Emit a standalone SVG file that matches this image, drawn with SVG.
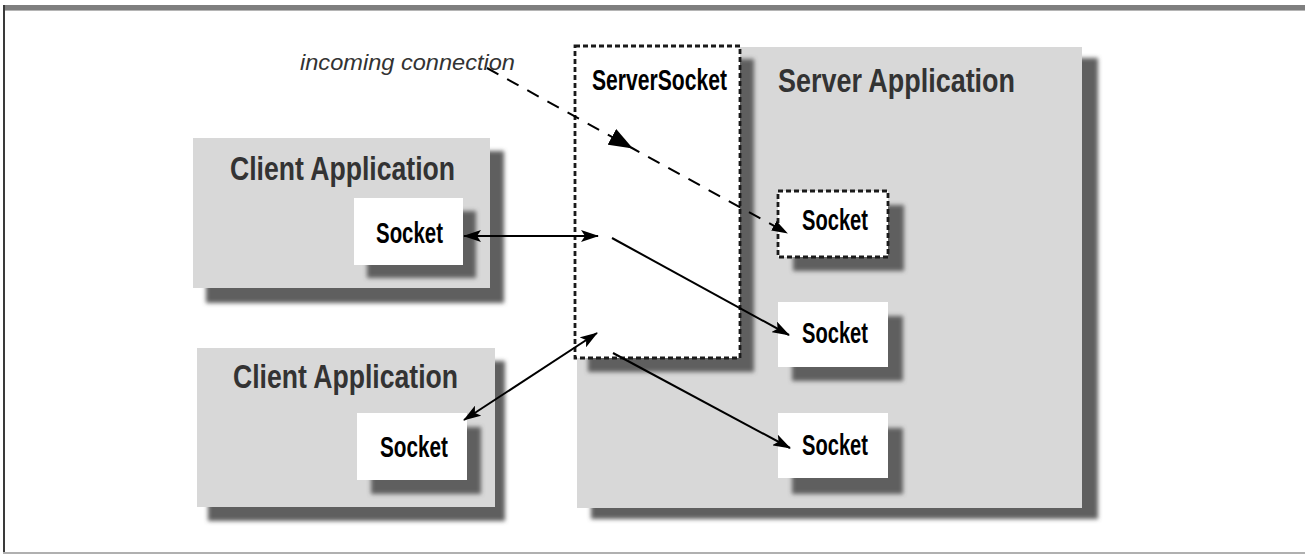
<svg xmlns="http://www.w3.org/2000/svg" width="1305" height="555" viewBox="0 0 1305 555">
<defs>
<filter id="soft" x="-10%" y="-10%" width="120%" height="120%"><feGaussianBlur stdDeviation="2"/></filter>
<marker id="ah" viewBox="0 0 18 12" refX="17" refY="6" markerWidth="18" markerHeight="12" markerUnits="userSpaceOnUse" orient="auto-start-reverse"><path d="M0,0 L18,6 L0,12 L4,6 z" fill="#000"/></marker>
<marker id="ahs" viewBox="0 0 16 11" refX="15" refY="5.5" markerWidth="16" markerHeight="11" markerUnits="userSpaceOnUse" orient="auto"><path d="M0,0 L16,5.5 L0,11 z" fill="#000"/></marker>
<marker id="ahm" viewBox="0 0 24 18" refX="23" refY="9" markerWidth="24" markerHeight="18" markerUnits="userSpaceOnUse" orient="auto"><path d="M0,0 L24,9 L0,18 z" fill="#000"/></marker>
</defs>
<style>
.app{fill:#d8d8d8}
.shadow{fill:#5e5e5e;filter:url(#soft)}
.sock{fill:#fff}
.dash{fill:#fff;stroke:#1a1a1a;stroke-width:2.8;stroke-dasharray:5 3}
.title{font-family:"Liberation Sans",Arial,sans-serif;font-weight:bold;font-size:34px;fill:#333}
.lbl{font-family:"Liberation Sans",Arial,sans-serif;font-weight:bold;font-size:30px;fill:#000}
.note{font-family:"Liberation Sans",Arial,sans-serif;font-style:italic;font-size:22px;fill:#333}
.conn{stroke:#000;stroke-width:2;fill:none}
</style>
<rect x="0" y="0" width="1305" height="555" fill="#fff"/>
<g id="frame">
<rect x="3" y="5" width="1302" height="5" fill="#7f7f7f"/>
<rect x="3" y="10" width="1302" height="1" fill="#b5b5b5"/>
<rect x="3" y="5" width="2" height="549" fill="#3a3a3a"/>
<rect x="3" y="552" width="1302" height="2" fill="#b0b0b0"/>
</g>
<g id="server-app">
<rect class="shadow" x="591" y="58" width="507" height="461"/>
<rect class="app" x="577" y="47" width="505" height="461"/>
<text class="title" x="778" y="92" textLength="237" lengthAdjust="spacingAndGlyphs">Server Application</text>
</g>
<g id="client-app-1">
<rect class="shadow" x="206" y="151" width="298" height="152"/>
<rect class="app" x="193" y="138" width="297" height="150"/>
<text class="title" x="230" y="180" textLength="225" lengthAdjust="spacingAndGlyphs">Client Application</text>
</g>
<g id="client-app-2">
<rect class="shadow" x="208" y="361" width="297" height="160"/>
<rect class="app" x="197" y="348" width="298" height="159"/>
<text class="title" x="233" y="388" textLength="225" lengthAdjust="spacingAndGlyphs">Client Application</text>
</g>
<g id="server-socket">
<rect class="shadow" x="588" y="59" width="166" height="313"/>
<rect class="dash" x="575" y="46" width="165" height="312"/>
<text class="lbl" x="592" y="90" textLength="135" lengthAdjust="spacingAndGlyphs">ServerSocket</text>
</g>
<g id="client-socket-1">
<rect class="shadow" x="367" y="211" width="109" height="67"/>
<rect class="sock" x="354" y="198" width="109" height="67"/>
<text class="lbl" x="376" y="243" textLength="67" lengthAdjust="spacingAndGlyphs">Socket</text>
</g>
<g id="client-socket-2">
<rect class="shadow" x="371" y="427" width="110" height="67"/>
<rect class="sock" x="357" y="413" width="110" height="67"/>
<text class="lbl" x="380" y="457" textLength="68" lengthAdjust="spacingAndGlyphs">Socket</text>
</g>
<g id="server-socket-a">
<rect class="shadow" x="793" y="205" width="111" height="66"/>
<rect class="dash" x="778" y="191" width="110" height="66"/>
<text class="lbl" x="802" y="230" textLength="66" lengthAdjust="spacingAndGlyphs">Socket</text>
</g>
<g id="server-socket-b">
<rect class="shadow" x="792" y="316" width="111" height="65"/>
<rect class="sock" x="778" y="302" width="110" height="65"/>
<text class="lbl" x="802" y="343" textLength="66" lengthAdjust="spacingAndGlyphs">Socket</text>
</g>
<g id="server-socket-c">
<rect class="shadow" x="792" y="428" width="111" height="66"/>
<rect class="sock" x="778" y="413" width="110" height="65"/>
<text class="lbl" x="802" y="455" textLength="66" lengthAdjust="spacingAndGlyphs">Socket</text>
</g>
<g id="note">
<text class="note" x="300" y="70" textLength="215" lengthAdjust="spacingAndGlyphs">incoming connection</text>
</g>
<g id="connectors">
<polyline class="conn" points="487,68 632,148 787,233" stroke-width="3" stroke-dasharray="13 10" marker-mid="url(#ahm)" marker-end="url(#ahs)"/>
<line class="conn" x1="464" y1="236" x2="598" y2="236" marker-start="url(#ah)" marker-end="url(#ah)"/>
<line class="conn" x1="612" y1="238" x2="789" y2="335" marker-end="url(#ah)"/>
<line class="conn" x1="464" y1="420" x2="597" y2="333" marker-start="url(#ah)" marker-end="url(#ah)"/>
<line class="conn" x1="613" y1="353" x2="790" y2="448" marker-end="url(#ah)"/>
</g>
</svg>
